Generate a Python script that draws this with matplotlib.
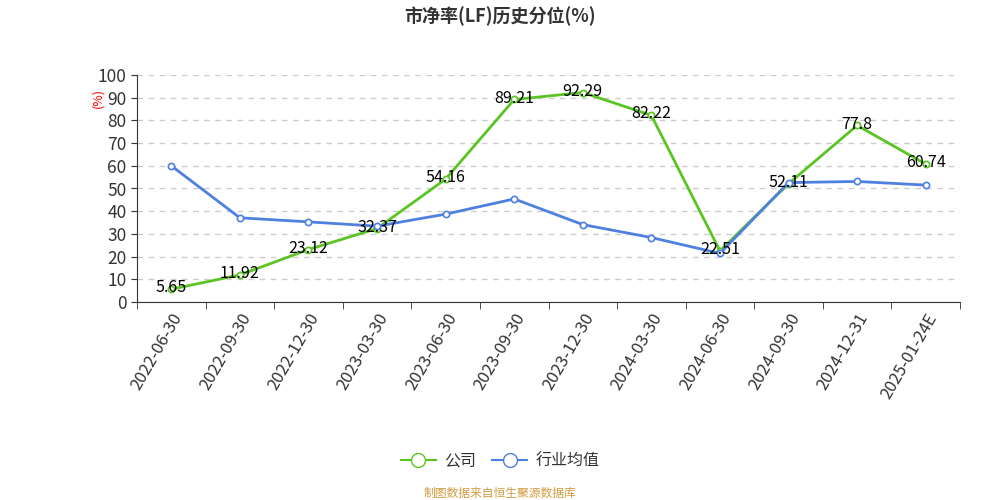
import matplotlib
matplotlib.use("Agg")
import matplotlib.pyplot as plt
from matplotlib.lines import Line2D
import numpy as np

plt.rcParams['font.family'] = ['Noto Sans CJK SC', 'DejaVu Sans']

# data
dates = ["2022-06-30", "2022-09-30", "2022-12-30", "2023-03-30", "2023-06-30", "2023-09-30",
         "2023-12-30", "2024-03-30", "2024-06-30", "2024-09-30", "2024-12-31", "2025-01-24E"]
company = [5.65, 11.92, 23.12, 32.37, 54.16, 89.21, 92.29, 82.22, 22.51, 52.11, 77.8, 60.74]
industry = [60.0, 37.1, 35.3, 33.4, 38.7, 45.4, 34.1, 28.4, 21.4, 52.6, 53.1, 51.5]

green = "#5ac422"
blue = "#4e80e0"

fig = plt.figure(figsize=(10, 5), dpi=100)
ax = fig.add_axes([0.137, 0.396, 0.823, 0.454])

x = np.arange(len(dates))
ax.plot(x, company, color=green, lw=2, marker="o", ms=4.5, mfc="white", mec=green, mew=1.2, zorder=3)
ax.plot(x, industry, color=blue, lw=2, marker="o", ms=4.5, mfc="white", mec=blue, mew=1.2, zorder=3)

# value labels sit on the points
for xi, v in zip(x, company):
    ax.text(xi, v + 0.6, f"{v:g}", ha="center", va="center", fontsize=11.5, color="black", zorder=4)

ax.set_xlim(-0.5, len(dates) - 0.5)
ax.set_ylim(0, 100)
ax.set_yticks(range(0, 101, 10))
ax.tick_params(axis="y", labelsize=12.5, colors="#333333", length=4)
ax.yaxis.grid(True, ls=(0, (4, 4)), color="#cccccc", lw=1)
ax.set_axisbelow(True)

ax.set_xticks(x)
ax.set_xticklabels(dates, rotation=60, ha="right", rotation_mode="anchor", fontsize=12, color="#333333")
ax.tick_params(axis="x", length=0, pad=6)
ax.set_xticks(np.arange(-0.5, len(dates), 1), minor=True)
ax.tick_params(axis="x", which="minor", length=5, color="#333333")

for s in ["top", "right"]:
    ax.spines[s].set_visible(False)
ax.spines["left"].set_color("#333333")
ax.spines["bottom"].set_color("#333333")

fig.text(0.098, 0.805, "(%)", rotation=90, color="red", fontsize=9, ha="center", va="center")
fig.text(0.5, 0.968, "市净率(LF)历史分位(%)", ha="center", va="center", fontsize=13, fontweight="bold", color="#333333")

# legend
handles = [Line2D([], [], color=green, lw=1.5, marker="o", ms=10, mfc="white", mec=green),
           Line2D([], [], color=blue, lw=1.5, marker="o", ms=10, mfc="white", mec=blue)]
fig.legend(handles, ["公司", "行业均值"], loc="center", bbox_to_anchor=(0.5, 0.078), ncol=2,
           frameon=False, fontsize=11.5, handlelength=2.2, columnspacing=1.0, handletextpad=0.5,
           labelcolor="#333333")

fig.text(0.5, 0.013, "制图数据来自恒生聚源数据库", ha="center", va="center", fontsize=8.5, color="#d19b3f")

fig.savefig("out.png", dpi=100)
